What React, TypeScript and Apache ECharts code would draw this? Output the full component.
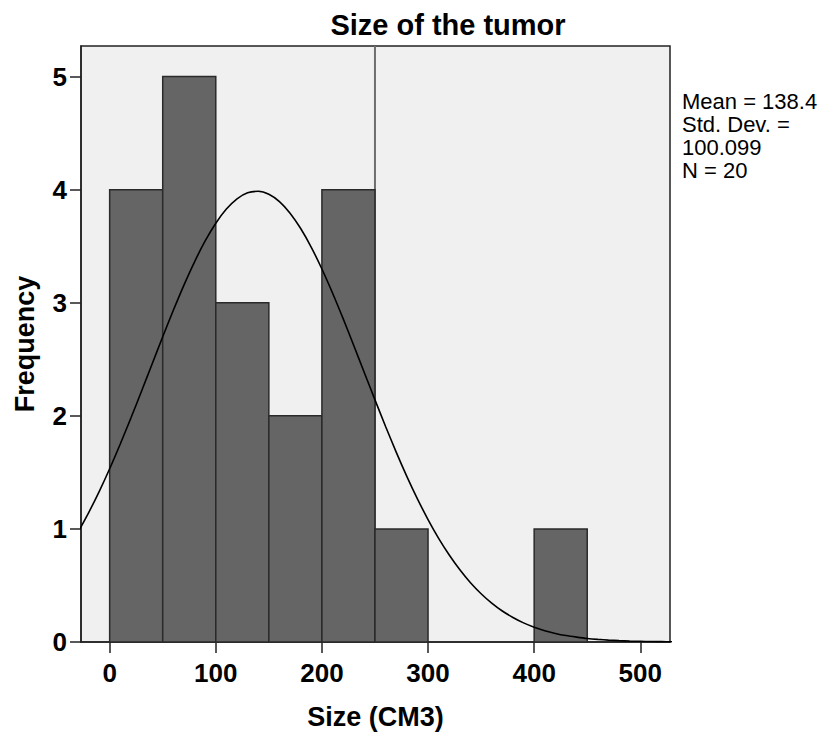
import React, { useEffect, useRef } from "react";
import * as echarts from "echarts";

const binEdges = [0, 50, 100, 150, 200, 250, 300, 350, 400, 450];
const counts = [4, 5, 3, 2, 4, 1, 0, 0, 1];
const xTicks = [0, 100, 200, 300, 400, 500];
const yTicks = [0, 1, 2, 3, 4, 5];
const curveX = [
  -30, -20, -10, 0, 10, 20, 30, 40, 50, 60, 70, 80, 90, 100, 110, 120, 130, 140, 150,
  160, 170, 180, 190, 200, 210, 220, 230, 240, 250, 260, 270, 280, 290, 300, 310,
  320, 330, 340, 350, 360, 370, 380, 390, 400, 410, 420, 430, 440, 450, 460, 470,
  480, 490, 500, 510, 520, 530,
];
const curveY = [
  0.968, 1.140, 1.328, 1.532, 1.751, 1.980, 2.217, 2.458, 2.699, 2.933, 3.156, 3.362, 3.546, 3.703, 3.828, 3.919, 3.972, 3.985, 3.959,
  3.894, 3.792, 3.656, 3.490, 3.298, 3.086, 2.859, 2.622, 2.381, 2.141, 1.906, 1.679, 1.465, 1.266, 1.083, 0.917,
  0.769, 0.638, 0.524, 0.427, 0.344, 0.274, 0.217, 0.169, 0.131, 0.100, 0.076, 0.057, 0.043, 0.031, 0.023, 0.017,
  0.012, 0.008, 0.006, 0.004, 0.003, 0.002,
];
const refLineX = 250;
const statsLines = ["Mean = 138.4", "Std. Dev. =", "100.099", "N = 20"];
const titleText = "Size of the tumor";
const xName = "Size (CM3)";
const yName = "Frequency";

const FONT = "'Liberation Sans', Arial, sans-serif";

export default function App() {
  const ref = useRef<HTMLDivElement>(null);
  useEffect(() => {
    if (!ref.current) return;
    const chart = echarts.init(ref.current, null, { renderer: "svg" });
    const xMin = -27, xMax = 528, yMax = 5.27;
    const barData = counts
      .map((c, i) => [binEdges[i], binEdges[i + 1], c])
      .filter((d) => d[2] > 0);
    chart.setOption({
      animation: false,
      backgroundColor: "#ffffff",
      textStyle: { fontFamily: FONT },
      title: {
        text: titleText,
        left: 443,
        top: 5,
        textAlign: "center",
        textStyle: { fontFamily: FONT, fontSize: 29, fontWeight: "bold", color: "#000" },
      },
      graphic: statsLines.map((line, i) => ({
        type: "text",
        x: 682,
        y: 101 + i * 23.3,
        style: {
          text: line,
          font: `22px ${FONT}`,
          fill: "#000",
          verticalAlign: "middle",
          align: "left",
        },
      })),
      grid: {
        left: 81,
        right: 162,
        top: 46,
        bottom: 91,
        show: true,
        backgroundColor: "#f0f0f0",
        borderColor: "#222",
        borderWidth: 1.5,
      },
      xAxis: {
        type: "value",
        min: xMin,
        max: xMax,
        name: xName,
        nameLocation: "middle",
        nameGap: 61,
        nameTextStyle: { fontFamily: FONT, fontSize: 27, fontWeight: "bold", color: "#000" },
        axisLine: { show: true, lineStyle: { color: "#222", width: 1.5 } },
        axisTick: { show: true, length: 11, customValues: xTicks, lineStyle: { color: "#222", width: 1.5 } },
        axisLabel: {
          customValues: xTicks,
          margin: 18,
          fontFamily: FONT,
          fontSize: 26,
          fontWeight: "bold",
          color: "#000",
        },
        splitLine: { show: false },
      },
      yAxis: {
        type: "value",
        min: 0,
        max: yMax,
        name: yName,
        nameLocation: "middle",
        nameGap: 43,
        nameTextStyle: { fontFamily: FONT, fontSize: 27, fontWeight: "bold", color: "#000" },
        axisLine: { show: true, onZero: false, lineStyle: { color: "#222", width: 1.5 } },
        axisTick: { show: true, length: 11, customValues: yTicks, lineStyle: { color: "#222", width: 1.5 } },
        axisLabel: {
          customValues: yTicks,
          margin: 14,
          fontFamily: FONT,
          fontSize: 26,
          fontWeight: "bold",
          color: "#000",
        },
        splitLine: { show: false },
      },
      series: [
        {
          type: "line",
          name: "ref",
          data: [[refLineX, 0], [refLineX, yMax]],
          symbol: "none",
          lineStyle: { color: "#6e6e6e", width: 2 },
          z: 1,
          silent: true,
        },
        {
          type: "custom",
          name: "bars",
          data: barData,
          encode: { x: [0, 1], y: 2 },
          z: 2,
          renderItem: (params: any, api: any) => {
            const x0 = api.value(0);
            const x1 = api.value(1);
            const c = api.value(2);
            const p0 = api.coord([x0, c]);
            const p1 = api.coord([x1, 0]);
            return {
              type: "rect",
              shape: { x: p0[0], y: p0[1], width: p1[0] - p0[0], height: p1[1] - p0[1] },
              style: { fill: "#656565", stroke: "#2a2a2a", lineWidth: 1.5 },
            };
          },
        },
        {
          type: "line",
          name: "normal",
          data: curveX.map((x, i) => [x, curveY[i]]),
          smooth: 0.25,
          symbol: "none",
          clip: true,
          lineStyle: { color: "#000", width: 1.6 },
          z: 3,
        },
      ],
    });
    return () => chart.dispose();
  }, []);
  return (
    <div
      ref={ref}
      style={{ position: "fixed", left: 0, top: 0, width: 832, height: 735 }}
    />
  );
}
